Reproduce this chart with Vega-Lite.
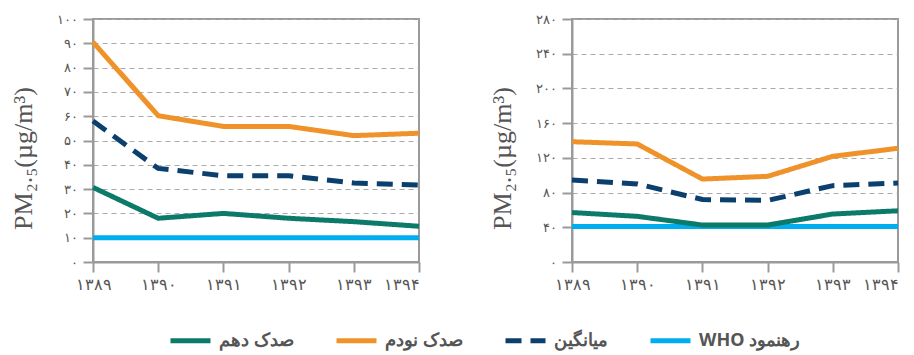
{
  "$schema": "https://vega.github.io/schema/vega-lite/v6.json",
  "padding": {"left": 9, "top": 12, "right": 5, "bottom": 5},
  "config": {
    "locale": {"number": {"decimal": ".", "thousands": ",", "grouping": [3], "currency": ["", ""], "numerals": ["۰","۱","۲","۳","۴","۵","۶","۷","۸","۹"]}},
    "view": {"stroke": "#9a9a9a", "strokeWidth": 2},
    "axis": {
      "domainColor": "#9a9a9a", "domainWidth": 2,
      "tickColor": "#9a9a9a", "tickWidth": 2, "tickSize": 10,
      "labelColor": "#555555", "labelFont": "Noto Sans",
      "titleColor": "#555555"
    },
    "legend": {
      "symbolType": "stroke", "symbolSize": 1600, "symbolStrokeWidth": 5,
      "labelFontSize": 18, "labelFontWeight": "bold", "labelColor": "#555555", "labelFont": "Noto Sans",
      "columnPadding": 32, "labelOffset": 6, "labelLimit": 300
    }
  },
  "datasets": {
    "left": [
      {"year": "۱۳۸۹", "series": "WHO رهنمود", "value": 10},
      {"year": "۱۳۹۰", "series": "WHO رهنمود", "value": 10},
      {"year": "۱۳۹۱", "series": "WHO رهنمود", "value": 10},
      {"year": "۱۳۹۲", "series": "WHO رهنمود", "value": 10},
      {"year": "۱۳۹۳", "series": "WHO رهنمود", "value": 10},
      {"year": "۱۳۹۴", "series": "WHO رهنمود", "value": 10},
      {"year": "۱۳۸۹", "series": "صدک دهم", "value": 30.7},
      {"year": "۱۳۹۰", "series": "صدک دهم", "value": 18},
      {"year": "۱۳۹۱", "series": "صدک دهم", "value": 20},
      {"year": "۱۳۹۲", "series": "صدک دهم", "value": 18},
      {"year": "۱۳۹۳", "series": "صدک دهم", "value": 16.6},
      {"year": "۱۳۹۴", "series": "صدک دهم", "value": 14.7},
      {"year": "۱۳۸۹", "series": "میانگین", "value": 58},
      {"year": "۱۳۹۰", "series": "میانگین", "value": 38.5},
      {"year": "۱۳۹۱", "series": "میانگین", "value": 35.5},
      {"year": "۱۳۹۲", "series": "میانگین", "value": 35.5},
      {"year": "۱۳۹۳", "series": "میانگین", "value": 32.5},
      {"year": "۱۳۹۴", "series": "میانگین", "value": 31.7},
      {"year": "۱۳۸۹", "series": "صدک نودم", "value": 90.5},
      {"year": "۱۳۹۰", "series": "صدک نودم", "value": 60.2},
      {"year": "۱۳۹۱", "series": "صدک نودم", "value": 55.8},
      {"year": "۱۳۹۲", "series": "صدک نودم", "value": 55.8},
      {"year": "۱۳۹۳", "series": "صدک نودم", "value": 52},
      {"year": "۱۳۹۴", "series": "صدک نودم", "value": 53}
    ],
    "right": [
      {"year": "۱۳۸۹", "series": "WHO رهنمود", "value": 41},
      {"year": "۱۳۹۰", "series": "WHO رهنمود", "value": 41},
      {"year": "۱۳۹۱", "series": "WHO رهنمود", "value": 41},
      {"year": "۱۳۹۲", "series": "WHO رهنمود", "value": 41},
      {"year": "۱۳۹۳", "series": "WHO رهنمود", "value": 41},
      {"year": "۱۳۹۴", "series": "WHO رهنمود", "value": 41},
      {"year": "۱۳۸۹", "series": "صدک دهم", "value": 57},
      {"year": "۱۳۹۰", "series": "صدک دهم", "value": 52.6},
      {"year": "۱۳۹۱", "series": "صدک دهم", "value": 42.6},
      {"year": "۱۳۹۲", "series": "صدک دهم", "value": 42.6},
      {"year": "۱۳۹۳", "series": "صدک دهم", "value": 55.3},
      {"year": "۱۳۹۴", "series": "صدک دهم", "value": 59},
      {"year": "۱۳۸۹", "series": "میانگین", "value": 94.5},
      {"year": "۱۳۹۰", "series": "میانگین", "value": 90},
      {"year": "۱۳۹۱", "series": "میانگین", "value": 72},
      {"year": "۱۳۹۲", "series": "میانگین", "value": 71},
      {"year": "۱۳۹۳", "series": "میانگین", "value": 88},
      {"year": "۱۳۹۴", "series": "میانگین", "value": 91},
      {"year": "۱۳۸۹", "series": "صدک نودم", "value": 138.6},
      {"year": "۱۳۹۰", "series": "صدک نودم", "value": 136},
      {"year": "۱۳۹۱", "series": "صدک نودم", "value": 95.6},
      {"year": "۱۳۹۲", "series": "صدک نودم", "value": 98.7},
      {"year": "۱۳۹۳", "series": "صدک نودم", "value": 121.8},
      {"year": "۱۳۹۴", "series": "صدک نودم", "value": 131}
    ]
  },
  "hconcat": [
    {
      "data": {"name": "left"},
      "width": 326, "height": 243,
      "mark": {"type": "line", "strokeWidth": 5, "strokeCap": "butt", "strokeJoin": "miter"},
      "encoding": {
        "x": {"field": "year", "type": "ordinal", "sort": null,
              "scale": {"type": "point", "padding": 0},
              "axis": {"title": null, "labelAngle": 0, "labelFontSize": 16, "labelPadding": 4, "grid": false,
                       "labelAlign": {"expr": "datum.label == '۱۳۹۴' ? 'right' : 'center'"}}},
        "y": {"field": "value", "type": "quantitative",
              "scale": {"domain": [0, 100], "nice": false},
              "axis": {"values": [0,10,20,30,40,50,60,70,80,90,100], "title": "PM₂.₅(µg/m³)",
                       "titleFont": "Liberation Serif", "titleFontSize": 26, "titleFontWeight": "normal",
                       "titlePadding": 20, "titleY": 139,
                       "labelFontSize": 13, "labelPadding": 6,
                       "grid": true, "gridColor": "#aaaaaa", "gridDash": [5, 4], "gridWidth": 1}},
        "color": {"field": "series", "type": "nominal",
                  "scale": {"domain": ["صدک دهم", "صدک نودم", "میانگین", "WHO رهنمود"],
                            "range": ["#0b7a68", "#f0922a", "#0a3f6e", "#00adef"]},
                  "legend": {"title": null, "orient": "none", "direction": "horizontal", "legendX": 75, "legendY": 299}},
        "strokeDash": {"field": "series", "type": "nominal",
                  "scale": {"domain": ["صدک دهم", "صدک نودم", "میانگین", "WHO رهنمود"],
                            "range": [[1, 0], [1, 0], [16, 9], [1, 0]]},
                  "legend": {"title": null, "orient": "none", "direction": "horizontal", "legendX": 75, "legendY": 299}}
      }
    },
    {
      "data": {"name": "right"},
      "width": 326, "height": 243,
      "mark": {"type": "line", "strokeWidth": 5, "strokeCap": "butt", "strokeJoin": "miter"},
      "encoding": {
        "x": {"field": "year", "type": "ordinal", "sort": null,
              "scale": {"type": "point", "padding": 0},
              "axis": {"title": null, "labelAngle": 0, "labelFontSize": 16, "labelPadding": 4, "grid": false,
                       "labelAlign": {"expr": "datum.label == '۱۳۹۴' ? 'right' : 'center'"}}},
        "y": {"field": "value", "type": "quantitative",
              "scale": {"domain": [0, 280], "nice": false},
              "axis": {"values": [0,40,80,120,160,200,240,280], "title": "PM₂.₅(µg/m³)",
                       "titleFont": "Liberation Serif", "titleFontSize": 26, "titleFontWeight": "normal",
                       "titlePadding": 20, "titleY": 139,
                       "labelFontSize": 13, "labelPadding": 6,
                       "grid": true, "gridColor": "#aaaaaa", "gridDash": [5, 4], "gridWidth": 1}},
        "color": {"field": "series", "type": "nominal",
                  "scale": {"domain": ["صدک دهم", "صدک نودم", "میانگین", "WHO رهنمود"],
                            "range": ["#0b7a68", "#f0922a", "#0a3f6e", "#00adef"]},
                  "legend": {"title": null, "orient": "none", "direction": "horizontal", "legendX": 75, "legendY": 299}},
        "strokeDash": {"field": "series", "type": "nominal",
                  "scale": {"domain": ["صدک دهم", "صدک نودم", "میانگین", "WHO رهنمود"],
                            "range": [[1, 0], [1, 0], [16, 9], [1, 0]]},
                  "legend": {"title": null, "orient": "none", "direction": "horizontal", "legendX": 75, "legendY": 299}}
      }
    }
  ],
  "spacing": 58,
  "resolve": {"scale": {"x": "independent", "y": "independent", "color": "shared", "strokeDash": "shared"}}
}
